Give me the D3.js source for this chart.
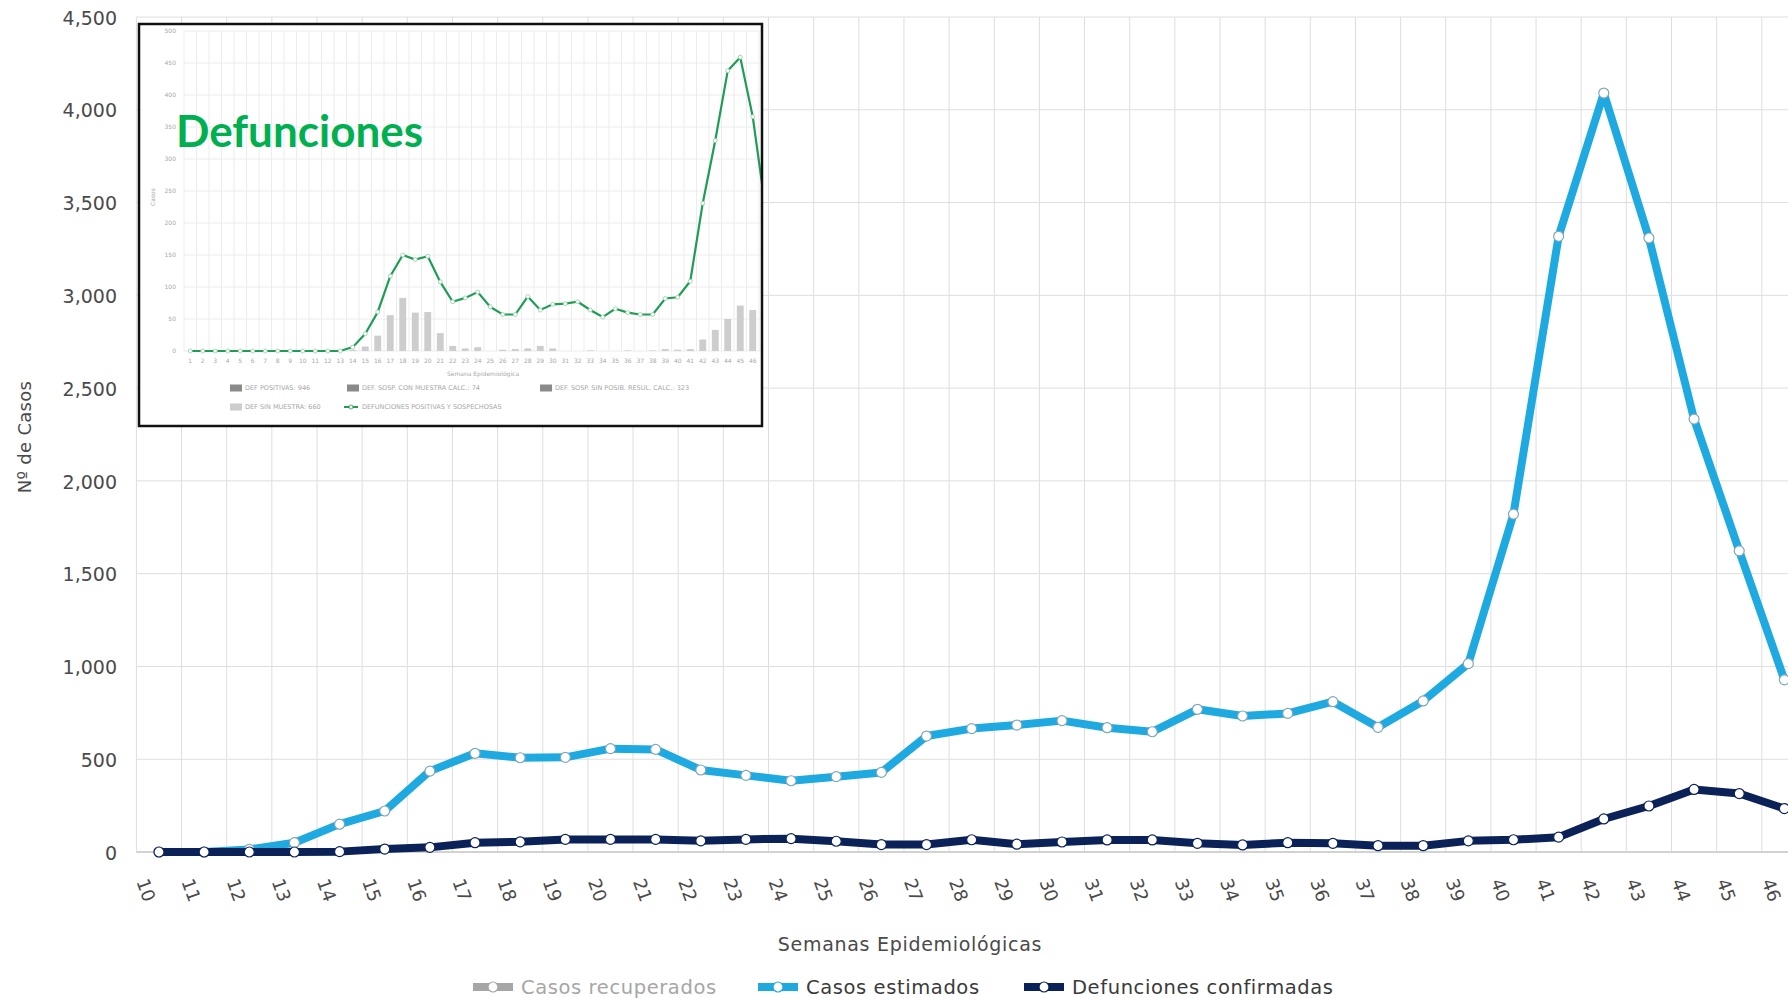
<!DOCTYPE html>
<html lang="es">
<head>
  <meta charset="UTF-8">
  <title>Casos estimados y defunciones confirmadas</title>
  <script src="https://d3js.org/d3.v7.min.js"></script>
  <style>
    body {
      margin: 0;
      padding: 0;
      background: #fff;
      overflow: hidden;
    }
    svg {
      display: block;
      font-family: "DejaVu Sans", sans-serif;
    }
    .grid line {
      stroke: #dedede;
      stroke-width: 1;
    }
    .tick-label {
      fill: #4a4a4a;
      font-size: 19px;
    }
    .axis-title {
      fill: #4a4a4a;
      font-size: 19px;
      letter-spacing: 0.7px;
    }
    .inset-text {
      fill: #a8a8a8;
      font-size: 6px;
    }
  </style>
</head>
<body>
  <script>
    // main chart: weeks 10-46
    const semanas = ["10", "11", "12", "13", "14", "15", "16", "17", "18", "19", "20", "21", "22", "23", "24", "25", "26", "27", "28", "29", "30", "31", "32", "33", "34", "35", "36", "37", "38", "39", "40", "41", "42", "43", "44", "45", "46"];
    const casosEstimados = [0, 0, 14, 50, 150, 221, 436, 532, 508, 510, 557, 553, 442, 413, 384, 406, 429, 625, 665, 684, 708, 670, 648, 769, 733, 747, 810, 672, 814, 1015, 1821, 3318, 4090, 3309, 2333, 1623, 928];
    const defuncionesConfirmadas = [0, 0, 0, 0, 2, 16, 25, 50, 55, 68, 68, 68, 60, 68, 72, 58, 40, 40, 66, 42, 54, 65, 65, 47, 38, 50, 47, 34, 34, 60, 66, 80, 178, 248, 337, 315, 234];
    const yTicks = [0, 500, 1000, 1500, 2000, 2500, 3000, 3500, 4000, 4500];
    const leyenda = ["Casos recuperados", "Casos estimados", "Defunciones confirmadas"];
    const leyendaColores = ["#a6a6a6", "#1fa9e1", "#0b2259"];

    // inset (pasted chart): weeks 1-47, the last one is cut by the frame
    const insetSemanas = ["1", "2", "3", "4", "5", "6", "7", "8", "9", "10", "11", "12", "13", "14", "15", "16", "17", "18", "19", "20", "21", "22", "23", "24", "25", "26", "27", "28", "29", "30", "31", "32", "33", "34", "35", "36", "37", "38", "39", "40", "41", "42", "43", "44", "45", "46", "47"];
    const defPositivasSospechosas = [0, 0, 0, 0, 0, 0, 0, 0, 0, 0, 0, 0, 0, 6, 27, 61, 117, 150, 143, 148, 108, 77, 83, 92, 69, 57, 57, 85, 64, 73, 74, 77, 64, 53, 66, 60, 57, 57, 82, 84, 109, 231, 329, 438, 459, 366, 225];
    const defSinMuestra = [0, 0, 0, 0, 0, 0, 0, 0, 0, 0, 0, 0, 0, 2, 7, 24, 56, 83, 60, 61, 28, 8, 4, 6, 0, 2, 3, 4, 8, 4, 0, 0, 1, 0, 0, 1, 0, 1, 3, 2, 3, 18, 33, 50, 71, 64, 50];
    const insetYTicks = [0, 50, 100, 150, 200, 250, 300, 350, 400, 450, 500];
    const insetLeyenda = [
      "DEF POSITIVAS: 946",
      "DEF. SOSP. CON MUESTRA CALC.: 74",
      "DEF. SOSP. SIN POSIB. RESUL. CALC.: 323",
      "DEF SIN MUESTRA: 660",
      "DEFUNCIONES POSITIVAS Y SOSPECHOSAS"
    ];

    const width = 1788;
    const height = 998;

    const svg = d3.select("body")
      .append("svg")
      .attr("width", width)
      .attr("height", height);

    // ---------- main chart ----------
    const x = d3.scaleBand()
      .domain(semanas)
      .range([136.4, 136.4 + semanas.length * 45.15]);
    const cx = d => x(d) + x.bandwidth() / 2;

    const y = d3.scaleLinear()
      .domain([0, 4500])
      .range([852, 17]);

    const grid = svg.append("g").attr("class", "grid");
    grid.selectAll("line.h")
      .data(yTicks)
      .join("line")
      .attr("class", "h")
      .attr("x1", x.range()[0])
      .attr("x2", width)
      .attr("y1", d => y(d))
      .attr("y2", d => y(d));
    grid.selectAll("line.v")
      .data(semanas)
      .join("line")
      .attr("class", "v")
      .attr("x1", d => x(d))
      .attr("x2", d => x(d))
      .attr("y1", y(4500))
      .attr("y2", y(0));

    svg.append("line")
      .attr("x1", x.range()[0])
      .attr("x2", width)
      .attr("y1", y(0))
      .attr("y2", y(0))
      .attr("stroke", "#c8c8c8")
      .attr("stroke-width", 1.5);

    // y labels
    svg.append("g")
      .selectAll("text")
      .data(yTicks)
      .join("text")
      .attr("class", "tick-label")
      .attr("x", 117)
      .attr("y", d => y(d) + 1)
      .attr("dy", "0.35em")
      .attr("text-anchor", "end")
      .text(d => d3.format(",")(d));

    // x labels (rotated)
    svg.append("g")
      .selectAll("text")
      .data(semanas)
      .join("text")
      .attr("class", "tick-label")
      .style("font-size", "18px")
      .attr("text-anchor", "middle")
      .attr("dy", "0.35em")
      .attr("transform", d => `translate(${cx(d) - 13},${890}) rotate(70)`)
      .text(d => d);

    svg.append("text")
      .attr("class", "axis-title")
      .attr("x", 910)
      .attr("y", 944)
      .attr("dy", "0.35em")
      .attr("text-anchor", "middle")
      .text("Semanas Epidemiológicas");

    svg.append("text")
      .attr("class", "axis-title")
      .style("font-size", "18px")
      .style("letter-spacing", "0.3px")
      .attr("transform", "translate(25,437) rotate(-90)")
      .attr("dy", "0.35em")
      .attr("text-anchor", "middle")
      .text("Nº de Casos");

    const line = d3.line()
      .x((d, i) => cx(semanas[i]))
      .y(d => y(d));

    const series = [
      { values: casosEstimados, color: leyendaColores[1], marker: "#7fa7b8" },
      { values: defuncionesConfirmadas, color: leyendaColores[2], marker: "#0b2259" }
    ];

    series.forEach(s => {
      svg.append("path")
        .datum(s.values)
        .attr("d", line)
        .attr("fill", "none")
        .attr("stroke", s.color)
        .attr("stroke-width", 8)
        .attr("stroke-linejoin", "round");

      svg.append("g")
        .selectAll("circle")
        .data(s.values)
        .join("circle")
        .attr("cx", (d, i) => cx(semanas[i]))
        .attr("cy", d => y(d))
        .attr("r", 5)
        .attr("fill", "#fff")
        .attr("stroke", s.marker)
        .attr("stroke-width", 1.2);
    });

    // legend
    const legendX = [473, 758, 1024];
    const legend = svg.append("g")
      .selectAll("g")
      .data(leyenda)
      .join("g")
      .attr("transform", (d, i) => `translate(${legendX[i]},987)`);
    legend.append("line")
      .attr("x1", 0).attr("x2", 40)
      .attr("stroke", (d, i) => leyendaColores[i])
      .attr("stroke-width", 8);
    legend.append("circle")
      .attr("cx", 20)
      .attr("r", 5)
      .attr("fill", "#fff")
      .attr("stroke", (d, i) => leyendaColores[i])
      .attr("stroke-width", 1.2);
    legend.append("text")
      .attr("x", 48)
      .attr("dy", "0.35em")
      .style("font-size", "19.5px")
      .style("letter-spacing", "0.6px")
      .attr("fill", (d, i) => i === 0 ? "#a6a6a6" : "#3a3a3a")
      .text(d => d);

    // ---------- inset (Defunciones) ----------
    const box = { x: 139, y: 24, w: 623, h: 402 };
    const inset = svg.append("g");

    svg.append("defs").append("clipPath")
      .attr("id", "inset-clip")
      .append("rect")
      .attr("x", box.x).attr("y", box.y)
      .attr("width", box.w).attr("height", box.h);

    inset.append("rect")
      .attr("x", box.x).attr("y", box.y)
      .attr("width", box.w).attr("height", box.h)
      .attr("fill", "#fff");

    const ig = inset.append("g").attr("clip-path", "url(#inset-clip)");

    const ix = d3.scaleBand()
      .domain(insetSemanas)
      .range([184, 184 + insetSemanas.length * 12.5])
      .paddingInner(0.45)
      .paddingOuter(0.225);
    const icx = d => ix(d) + ix.bandwidth() / 2;
    const iy = d3.scaleLinear().domain([0, 500]).range([351, 31]);

    ig.append("g")
      .selectAll("line")
      .data(insetYTicks)
      .join("line")
      .attr("x1", 184).attr("x2", box.x + box.w)
      .attr("y1", d => iy(d)).attr("y2", d => iy(d))
      .attr("stroke", "#ececec");
    ig.append("g")
      .selectAll("line")
      .data(insetSemanas)
      .join("line")
      .attr("x1", d => icx(d) - 6.25).attr("x2", d => icx(d) - 6.25)
      .attr("y1", iy(500)).attr("y2", iy(0))
      .attr("stroke", "#ececec");

    ig.append("g")
      .selectAll("text")
      .data(insetYTicks)
      .join("text")
      .attr("class", "inset-text")
      .attr("x", 176)
      .attr("y", d => iy(d))
      .attr("dy", "0.35em")
      .attr("text-anchor", "end")
      .text(d => d);

    ig.append("g")
      .selectAll("text")
      .data(insetSemanas)
      .join("text")
      .attr("class", "inset-text")
      .attr("x", d => icx(d))
      .attr("y", 363)
      .attr("text-anchor", "middle")
      .text(d => d);

    ig.append("text")
      .attr("class", "inset-text")
      .attr("x", 483).attr("y", 376)
      .attr("text-anchor", "middle")
      .text("Semana Epidemiológica");

    ig.append("text")
      .attr("class", "inset-text")
      .attr("transform", "translate(155,197) rotate(-90)")
      .attr("text-anchor", "middle")
      .text("Casos");

    ig.append("g")
      .selectAll("rect")
      .data(defSinMuestra)
      .join("rect")
      .attr("x", (d, i) => ix(insetSemanas[i]))
      .attr("y", d => iy(d))
      .attr("width", ix.bandwidth())
      .attr("height", d => iy(0) - iy(d))
      .attr("fill", "#cdcdcd");

    const iline = d3.line()
      .x((d, i) => icx(insetSemanas[i]))
      .y(d => iy(d));

    ig.append("path")
      .datum(defPositivasSospechosas)
      .attr("d", iline)
      .attr("fill", "none")
      .attr("stroke", "#1f9d55")
      .attr("stroke-width", 2.2);

    ig.append("g")
      .selectAll("circle")
      .data(defPositivasSospechosas)
      .join("circle")
      .attr("cx", (d, i) => icx(insetSemanas[i]))
      .attr("cy", d => iy(d))
      .attr("r", 2)
      .attr("fill", "#fff")
      .attr("stroke", "#8fcfa6")
      .attr("stroke-width", 0.8);

    // inset legend
    const insetLegendPos = [[230, 388], [347, 388], [540, 388], [230, 407], [344, 407]];
    const insetSwatch = ["#8a8a8a", "#8a8a8a", "#8a8a8a", "#cdcdcd", "line"];
    const il = ig.append("g")
      .selectAll("g")
      .data(insetLeyenda)
      .join("g")
      .attr("transform", (d, i) => `translate(${insetLegendPos[i][0]},${insetLegendPos[i][1]})`);
    il.filter((d, i) => insetSwatch[i] !== "line")
      .append("rect")
      .attr("x", 0).attr("y", -3.5)
      .attr("width", 12).attr("height", 7)
      .attr("fill", (d, i) => insetSwatch[i]);
    il.filter((d, i) => insetSwatch[i] === "line")
      .append("line")
      .attr("x1", 0).attr("x2", 14)
      .attr("stroke", "#1f9d55")
      .attr("stroke-width", 2);
    il.filter((d, i) => insetSwatch[i] === "line")
      .append("circle")
      .attr("cx", 7).attr("r", 2)
      .attr("fill", "#fff")
      .attr("stroke", "#1f9d55")
      .attr("stroke-width", 0.8);
    il.append("text")
      .attr("class", "inset-text")
      .style("font-size", "6.5px")
      .attr("x", (d, i) => insetSwatch[i] === "line" ? 18 : 15)
      .attr("dy", "0.35em")
      .text(d => d);

    inset.append("rect")
      .attr("x", box.x).attr("y", box.y)
      .attr("width", box.w).attr("height", box.h)
      .attr("fill", "none")
      .attr("stroke", "#111")
      .attr("stroke-width", 2.5);

    inset.append("text")
      .attr("x", 176)
      .attr("y", 147)
      .attr("fill", "#00b050")
      .style("font-family", "Lato, 'Open Sans', sans-serif")
      .style("font-weight", "bold")
      .style("font-size", "44px")
      .text("Defunciones");
  </script>
</body>
</html>
